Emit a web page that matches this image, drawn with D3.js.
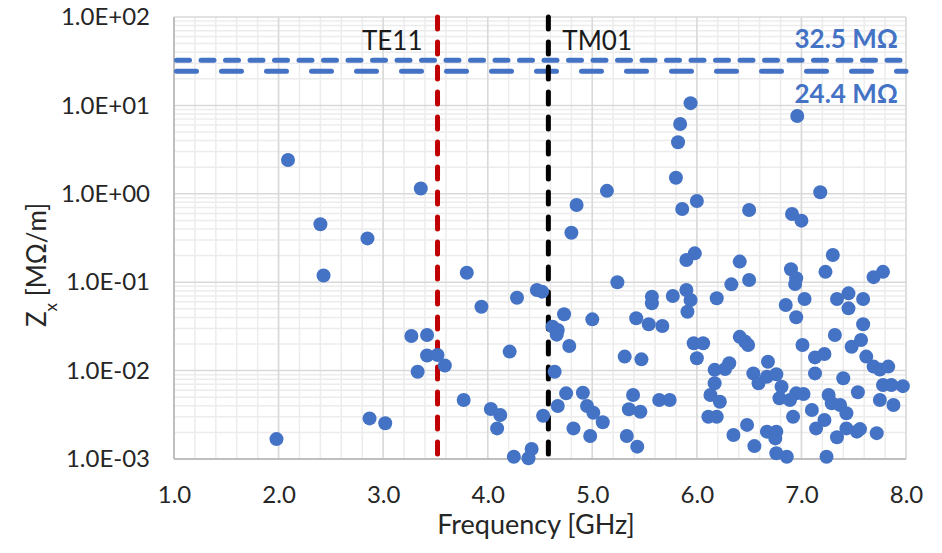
<!DOCTYPE html>
<html>
<head>
<meta charset="utf-8">
<script src="https://cdn.jsdelivr.net/npm/d3@7"></script>
<style>
  body { margin: 0; background: #fff; }
  svg { display: block; font-family: Lato, "Open Sans", sans-serif; }
</style>
</head>
<body>
<svg id="chart" width="942" height="553"></svg>
<script>
// measured points: frequency (GHz) and Zx (MOhm/m)
const freq = [
  1.98, 2.09, 2.40, 2.43, 2.85, 3.36, 2.87, 3.02, 3.27, 3.42, 3.42, 3.52, 3.33, 3.59,
  3.80, 3.94, 4.28, 4.47, 4.52, 4.80, 4.21, 3.77, 4.03, 4.12, 4.09, 4.25, 4.42, 4.39,
  4.53, 4.64, 4.62, 4.67, 4.66, 4.73, 4.78, 5.00, 4.75, 4.67, 4.91, 4.95, 5.01, 5.10,
  4.82, 4.98, 5.24, 5.31, 5.47, 5.42, 5.54, 5.67, 5.57, 5.57, 5.39, 5.35, 5.46, 5.33,
  5.43, 5.64, 5.74, 5.77, 5.90, 5.98, 5.90, 5.94, 5.91, 5.97, 6.00,
  5.94, 5.84, 5.82, 5.80, 5.14, 4.85, 5.86, 6.00, 6.50, 6.96, 6.91, 7.00, 7.18, 6.41,
  6.50, 6.33, 6.90, 6.95, 6.94, 7.30, 7.23, 7.69, 7.78, 6.19,
  6.06, 6.41, 6.46, 6.49, 6.17, 6.31, 6.27, 6.17, 6.13, 6.22, 6.54, 6.59, 6.68, 6.67,
  6.76, 6.81, 6.79, 6.11, 6.19, 6.48, 6.35, 6.55, 6.67, 6.76, 6.76, 6.86, 6.75, 6.89,
  6.95, 7.02, 6.92, 6.85, 7.03, 6.95, 7.01, 7.13, 7.22, 7.13, 7.10, 7.14, 7.22, 7.26,
  7.29, 7.37, 7.43, 7.34, 7.43, 7.53, 7.56, 7.72, 7.24, 7.34, 7.45, 7.45, 7.59, 7.59,
  7.32, 7.48, 7.57, 7.62, 7.69, 7.75, 7.83, 7.40, 7.54, 7.78, 7.86, 7.97, 7.75, 7.88
];
const zx = [
  0.00168, 2.41, 0.452, 0.119, 0.313, 1.15, 0.00288, 0.00254, 0.0246, 0.0253, 0.0148, 0.0150, 0.00972, 0.0114,
  0.128, 0.0528, 0.0668, 0.0816, 0.0782, 0.363, 0.0164, 0.00465, 0.00368, 0.00315, 0.00222, 0.00106, 0.00130, 0.00102,
  0.00309, 0.00972, 0.0314, 0.0288, 0.0255, 0.0434, 0.0190, 0.0380, 0.00553, 0.00398, 0.00562, 0.00398, 0.00334, 0.00260,
  0.00222, 0.00182, 0.0998, 0.0144, 0.0134, 0.0391, 0.0334, 0.0320, 0.0686, 0.0577, 0.00530, 0.00365, 0.00343, 0.00182,
  0.00138, 0.00465, 0.00465, 0.0699, 0.178, 0.212, 0.0817, 0.0629, 0.0464, 0.0204, 0.0138,
  10.6, 6.17, 3.83, 1.52, 1.08, 0.746, 0.673, 0.830, 0.656, 7.59, 0.590, 0.497, 1.04, 0.171,
  0.106, 0.0946, 0.140, 0.111, 0.0955, 0.203, 0.131, 0.114, 0.131, 0.0658,
  0.0204, 0.0241, 0.0213, 0.0195, 0.0102, 0.0121, 0.0104, 0.00718, 0.00530, 0.00445, 0.00930, 0.00718, 0.0126, 0.00853,
  0.00908, 0.00657, 0.00487, 0.00301, 0.00301, 0.00243, 0.00187, 0.00140, 0.00204, 0.00204, 0.00116, 0.00106, 0.00171, 0.00465,
  0.00553, 0.00543, 0.00301, 0.0552, 0.0645, 0.0401, 0.0195, 0.0141, 0.0154, 0.00930, 0.00358, 0.00222, 0.00276, 0.00530,
  0.00427, 0.00408, 0.00329, 0.00176, 0.00222, 0.00204, 0.00218, 0.00196, 0.00106, 0.0645, 0.0748, 0.0506, 0.0645, 0.0334,
  0.0253, 0.0186, 0.0222, 0.0144, 0.0111, 0.0103, 0.0111, 0.00818, 0.00568, 0.00687, 0.00687, 0.00667, 0.00465, 0.00408
];

const xTicks = [1, 2, 3, 4, 5, 6, 7, 8];
const xTickLabels = ["1.0", "2.0", "3.0", "4.0", "5.0", "6.0", "7.0", "8.0"];
const yTicks = [1e-3, 1e-2, 1e-1, 1e0, 1e1, 1e2];
const yTickLabels = ["1.0E-03", "1.0E-02", "1.0E-01", "1.0E+00", "1.0E+01", "1.0E+02"];

const modeNames = ["TE11", "TM01"];
const modeFreqs = [3.52, 4.58];
const refLevels = [32.5, 24.4];
const refLabels = ["32.5 MΩ", "24.4 MΩ"];

const svg = d3.select("#chart");
const pL = 174, pR = 906, pT = 17, pB = 459;

const x = d3.scaleLinear().domain([1, 8]).range([pL, pR]);
const y = d3.scaleLog().domain([1e-3, 1e2]).range([pB, pT]);

// minor grid
const minorX = d3.range(1, 8.001, 0.2);
const minorY = [];
yTicks.slice(0, -1).forEach(d => { for (let k = 2; k <= 9; k++) minorY.push(d * k); });

const grid = svg.append("g");
grid.selectAll(".mx").data(minorX).enter().append("line")
  .attr("x1", d => x(d)).attr("x2", d => x(d))
  .attr("y1", pT).attr("y2", pB)
  .attr("stroke", "#ececec").attr("stroke-width", 1.5);
grid.selectAll(".my").data(minorY).enter().append("line")
  .attr("x1", pL).attr("x2", pR)
  .attr("y1", d => y(d)).attr("y2", d => y(d))
  .attr("stroke", "#ececec").attr("stroke-width", 1.5);
// major grid
grid.selectAll(".Mx").data(xTicks).enter().append("line")
  .attr("x1", d => x(d)).attr("x2", d => x(d))
  .attr("y1", pT).attr("y2", pB)
  .attr("stroke", "#d9d9d9").attr("stroke-width", 1.5);
grid.selectAll(".My").data(yTicks).enter().append("line")
  .attr("x1", pL).attr("x2", pR)
  .attr("y1", d => y(d)).attr("y2", d => y(d))
  .attr("stroke", "#d9d9d9").attr("stroke-width", 1.5);

// axis lines
svg.append("line").attr("x1", pL).attr("x2", pL).attr("y1", pT).attr("y2", pB)
  .attr("stroke", "#bfbfbf").attr("stroke-width", 2);
svg.append("line").attr("x1", pL).attr("x2", pR).attr("y1", pB).attr("y2", pB)
  .attr("stroke", "#bfbfbf").attr("stroke-width", 2);

// axes text
const yAxis = svg.append("g").attr("transform", `translate(${pL},0)`)
  .call(d3.axisLeft(y).tickValues(yTicks).tickFormat((d, i) => yTickLabels[i]).tickSize(0).tickPadding(24));
const xAxis = svg.append("g").attr("transform", `translate(0,${pB})`)
  .call(d3.axisBottom(x).tickValues(xTicks).tickFormat((d, i) => xTickLabels[i]).tickSize(0).tickPadding(27));
[yAxis, xAxis].forEach(a => {
  a.select(".domain").remove();
  a.selectAll("text").attr("font-family", "Lato, sans-serif").attr("font-size", 24).attr("fill", "#262626");
});

// axis titles
svg.append("text")
  .attr("x", 536).attr("y", 534)
  .attr("text-anchor", "middle")
  .attr("font-size", 27).attr("fill", "#262626")
  .text("Frequency [GHz]");

const yt = svg.append("text")
  .attr("transform", "translate(46,265) rotate(-90)")
  .attr("text-anchor", "middle")
  .attr("font-size", 26).attr("fill", "#262626");
yt.append("tspan").text("Z");
yt.append("tspan").attr("font-size", 17).attr("baseline-shift", "sub").text("x");
yt.append("tspan").text(" [MΩ/m]");

// reference impedance lines
svg.selectAll(".ref").data(refLevels).enter().append("line")
  .attr("x1", pL).attr("x2", pR)
  .attr("y1", d => y(d)).attr("y2", d => y(d))
  .attr("stroke", "#4472C4").attr("stroke-width", 5)
  .attr("stroke-linecap", "round")
  .attr("stroke-dasharray", (d, i) => i === 0 ? "13,11.5" : "20,25")
  .attr("stroke-dashoffset", -2.5);

svg.selectAll(".reflab").data(refLabels).enter().append("text")
  .attr("x", 898)
  .attr("y", (d, i) => i === 0 ? 48 : 103)
  .attr("text-anchor", "end")
  .attr("font-size", 26).attr("font-weight", "bold")
  .attr("fill", "#4472C4")
  .text(d => d);

// mode cutoff lines
svg.selectAll(".mode").data(modeFreqs).enter().append("line")
  .attr("x1", d => x(d)).attr("x2", d => x(d))
  .attr("y1", pT).attr("y2", pB)
  .attr("stroke", (d, i) => i === 0 ? "#C00000" : "#000000")
  .attr("stroke-width", 5)
  .attr("stroke-linecap", "round")
  .attr("stroke-dasharray", "12,13");

svg.selectAll(".modelab").data(modeNames).enter().append("text")
  .attr("x", (d, i) => i === 0 ? x(modeFreqs[0]) - 15 : x(modeFreqs[1]) + 14)
  .attr("y", 50)
  .attr("text-anchor", (d, i) => i === 0 ? "end" : "start")
  .attr("font-size", 26).attr("fill", "#1a1a1a")
  .text(d => d);

// scatter points
svg.append("g").selectAll("circle")
  .data(freq.map((f, i) => [f, zx[i]]))
  .enter().append("circle")
  .attr("cx", d => x(d[0]))
  .attr("cy", d => y(d[1]))
  .attr("r", 7)
  .attr("fill", "#4472C4");
</script>
</body>
</html>
